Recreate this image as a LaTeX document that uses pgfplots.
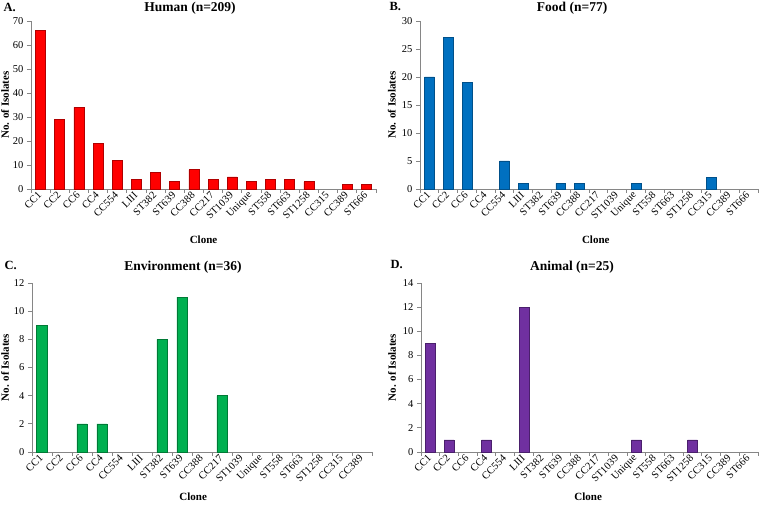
\documentclass[border=0pt]{standalone}
\usepackage{fontspec}
\setmainfont{Liberation Serif}
\usepackage{pgfplots}
\pgfplotsset{compat=1.18}
\definecolor{axgray}{HTML}{868686}
\definecolor{redf}{HTML}{FF0000}
\definecolor{rede}{HTML}{B00000}
\definecolor{bluef}{HTML}{0070C0}
\definecolor{bluee}{HTML}{00508A}
\definecolor{greenf}{HTML}{00B050}
\definecolor{greene}{HTML}{007A36}
\definecolor{purpf}{HTML}{7030A0}
\definecolor{purpe}{HTML}{4A1F6C}
\pgfplotsset{clonebar/.style={
  scale only axis, ybar, bar width=0.52, ymin=0,
  xmin=-0.5, xmax=17.5, xtick={0,...,17},
  xticklabels={CC1,CC2,CC6,CC4,CC554,LIII,ST382,ST639,CC388,CC217,ST1039,Unique,ST558,ST663,ST1258,CC315,CC389,ST666},
  minor xtick={-0.5,0.5,...,17.5},
  axis x line*=bottom, axis y line*=left,
  axis line style={draw=axgray, line width=0.8pt},
  tick align=outside, tick style={draw=axgray, line width=0.8pt},
  major tick length=4pt, minor tick length=4pt,
  major x tick style={draw=none},
  xticklabel style={rotate=45, anchor=east, font=\fontsize{10.5}{12}\selectfont, inner sep=1pt},
  yticklabel style={font=\fontsize{10.5}{12}\selectfont},
  /pgf/number format/assume math mode=true,
  label style={font=\bfseries\fontsize{11}{13}\selectfont},
  every axis title shift=0pt,
  title style={font=\bfseries\fontsize{13.5}{16}\selectfont, anchor=center, yshift=0pt},
  xlabel={Clone}, ylabel={No. of Isolates},
  clip=false,
}}
\begin{document}
\begin{tikzpicture}
\useasboundingbox (0pt,0pt) rectangle (760pt,505pt);
% A. Human
\begin{axis}[clonebar, at={(31pt,316pt)}, anchor=south west, width=345pt, height=168pt,
  ymax=70, ytick={0,10,...,70},
  title={Human (n=209)}, title style={at={(axis description cs:0.461,1.077)}},
  ylabel style={at={(axis description cs:-0.075,0.5)}, anchor=center},
  xlabel style={at={(axis description cs:0.5,-0.304)}, anchor=center}]
\addplot[fill=redf, draw=rede, line width=0.6pt] coordinates {
(0,66) (1,29) (2,34) (3,19) (4,12) (5,4) (6,7) (7,3) (8,8) (9,4)
(10,5) (11,3) (12,4) (13,4) (14,3) (16,2) (17,2)};
\end{axis}
% B. Food
\begin{axis}[clonebar, at={(420pt,316pt)}, anchor=south west, width=338pt, height=168pt,
  ymax=30, ytick={0,5,...,30},
  title={Food (n=77)}, title style={at={(axis description cs:0.450,1.077)}},
  ylabel style={at={(axis description cs:-0.083,0.5)}, anchor=center},
  xlabel style={at={(axis description cs:0.52,-0.304)}, anchor=center}]
\addplot[fill=bluef, draw=bluee, line width=0.6pt] coordinates {
(0,20) (1,27) (2,19) (4,5) (5,1) (7,1) (8,1) (11,1) (15,2)};
\end{axis}
% C. Environment
\begin{axis}[clonebar, at={(32pt,53pt)}, anchor=south west, width=340pt, height=169pt,
  xmax=16.5, minor xtick={-0.5,0.5,...,16.5}, xtick={0,...,16},
  ymax=12, ytick={0,2,...,12},
  title={Environment (n=36)}, title style={at={(axis description cs:0.444,1.095)}},
  ylabel style={at={(axis description cs:-0.079,0.5)}, anchor=center},
  xlabel style={at={(axis description cs:0.474,-0.266)}, anchor=center}]
\addplot[fill=greenf, draw=greene, line width=0.6pt] coordinates {
(0,9) (2,2) (3,2) (6,8) (7,11) (9,4)};
\end{axis}
% D. Animal
\begin{axis}[clonebar, at={(421pt,53pt)}, anchor=south west, width=337pt, height=169pt,
  ymax=14, ytick={0,2,...,14},
  title={Animal (n=25)}, title style={at={(axis description cs:0.448,1.095)}},
  ylabel style={at={(axis description cs:-0.086,0.5)}, anchor=center},
  xlabel style={at={(axis description cs:0.496,-0.266)}, anchor=center}]
\addplot[fill=purpf, draw=purpe, line width=0.6pt] coordinates {
(0,9) (1,1) (3,1) (5,12) (11,1) (14,1)};
\end{axis}
\node[anchor=west, font=\bfseries\fontsize{12.5}{15}\selectfont] at (0pt,498pt) {A.};
\node[anchor=west, font=\bfseries\fontsize{12.5}{15}\selectfont] at (386pt,498pt) {B.};
\node[anchor=west, font=\bfseries\fontsize{12.5}{15}\selectfont] at (1pt,240pt) {C.};
\node[anchor=west, font=\bfseries\fontsize{12.5}{15}\selectfont] at (387pt,240pt) {D.};
\end{tikzpicture}
\end{document}
